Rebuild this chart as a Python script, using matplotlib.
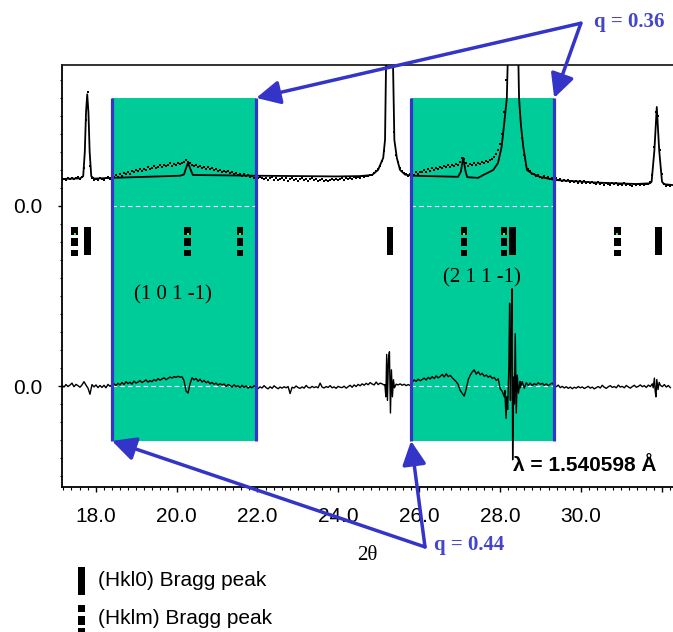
import numpy as np
import matplotlib
matplotlib.use('Agg')
import matplotlib.pyplot as plt
from matplotlib.patches import Rectangle

# scan grid of the measured pattern (degrees 2theta)
obs_start = 17.165
obs_step = 0.0495

# observed intensity above the pattern offset, 20 steps per row
obs_counts = [
    14.2, 15.1, 14.6, 15.3, 14.8, 15.6, 15.0, 15.4, 16.0, 15.2, 16.3, 21.0, 48.0, 63.5, 22.0, 15.8, 14.4, 15.0, 14.2, 15.3,
    15.0, 14.3, 15.6, 16.2, 15.1, 16.8, 16.0, 17.0, 16.3, 17.6, 16.9, 18.1, 17.5, 18.9, 18.0, 19.4, 18.6, 19.9, 19.2, 20.3,
    19.6, 20.8, 20.1, 21.4, 20.5, 21.2, 22.3, 20.9, 21.8, 22.6, 21.5, 23.0, 22.1, 22.8, 23.6, 22.3, 23.4, 22.6, 23.9, 23.1,
    23.8, 24.5, 25.3, 24.2, 23.6, 22.7, 22.0, 23.0, 21.6, 22.4, 21.1, 21.9, 20.7, 21.5, 20.3, 21.0, 19.8, 20.6, 19.4, 20.1,
    19.1, 19.7, 18.6, 19.3, 18.2, 18.9, 17.8, 18.5, 17.4, 18.0, 16.9, 17.6, 16.5, 17.2, 16.1, 16.8, 15.7, 16.4, 15.3, 16.0,
    15.8, 14.9, 15.6, 14.4, 15.3, 16.0, 14.7, 15.4, 14.2, 15.1, 15.8, 14.6, 15.3, 14.0, 15.0, 15.6, 14.5, 15.2, 13.9, 14.8,
    15.5, 14.3, 15.0, 14.1, 14.9, 15.4, 14.2, 14.8, 13.8, 14.6, 15.2, 14.0, 14.7, 13.7, 14.5, 15.1, 14.2, 14.9, 14.4, 15.0,
    15.3, 14.6, 15.6, 14.9, 15.8, 15.2, 16.1, 15.3, 16.2, 15.6, 16.5, 15.9, 16.8, 16.4, 17.3, 17.0, 18.4, 19.2, 20.6, 22.3,
    25.1, 30.8, 82.0, 240.0, 310.0, 190.0, 41.0, 28.4, 24.6, 21.3, 19.6, 18.2, 17.9, 16.8, 17.5, 16.4, 17.1, 18.6, 17.8, 19.0,
    18.8, 19.9, 19.1, 20.4, 19.6, 21.0, 20.2, 21.3, 20.6, 21.8, 21.0, 22.2, 21.4, 22.6, 21.9, 23.0, 22.2, 23.4, 22.8, 24.5,
    26.8, 25.9, 23.6, 22.4, 23.5, 22.6, 23.8, 22.9, 24.0, 23.2, 24.4, 23.6, 24.9, 24.2, 25.5, 26.0, 27.4, 28.8, 31.0, 34.5,
    40.0, 52.0, 70.0, 110.0, 300.0, 600.0, 520.0, 180.0, 90.0, 52.0, 38.0, 28.5, 23.0, 20.4, 19.2, 18.0, 17.6, 16.8, 17.2, 16.3,
    15.8, 16.4, 15.5, 16.1, 15.2, 15.7, 14.6, 15.3, 14.2, 14.9, 13.9, 14.6, 13.8, 14.3, 13.4, 14.1, 13.2, 13.9, 12.9, 13.7,
    13.0, 13.6, 12.7, 13.4, 12.5, 13.3, 12.9, 12.2, 13.1, 12.4, 13.0, 11.9, 12.8, 12.3, 11.7, 12.6, 12.0, 12.7, 11.6, 12.3,
    11.8, 12.5, 11.5, 12.2, 11.9, 11.3, 12.1, 11.6, 12.2, 11.4, 12.0, 11.7, 12.4, 12.0, 13.4, 17.0, 33.0, 52.0, 50.0, 31.0,
    18.0, 12.4, 11.3, 11.8, 11.1,
]

# calculated profile
calc_tth = [17.16, 17.61, 17.69, 17.73, 17.76, 17.79, 17.82, 17.85, 17.89, 17.96,
            18.40, 20.085, 20.184, 20.234, 20.283, 20.333, 20.402, 21.965, 23.944, 24.537,
            24.834, 24.983, 25.111, 25.156, 25.181, 25.23, 25.27, 25.309, 25.354, 25.387,
            25.448, 25.527, 25.651, 25.853, 26.962, 27.031, 27.09, 27.15, 27.189, 27.456,
            27.585, 27.704, 27.833, 27.951, 28.04, 28.10, 28.169, 28.189, 28.248, 28.318,
            28.387, 28.456, 28.471, 28.517, 28.576, 28.666, 28.794, 28.992, 29.363, 30.375,
            31.364, 31.71, 31.75, 31.819, 31.878, 31.937, 32.007, 32.056, 32.28]
calc_counts = [15.0, 15.3, 16.5, 30.0, 52.0, 62.0, 52.0, 30.0, 16.5, 15.2,
               15.6, 16.8, 17.5, 21.0, 24.0, 21.0, 17.2, 16.8, 16.4, 16.6,
               17.2, 20.0, 26.7, 36.7, 78.3, 250.0, 320.0, 250.0, 78.3, 36.7,
               26.7, 20.0, 17.4, 16.8, 16.2, 19.0, 26.7, 19.0, 16.0, 15.6,
               17.2, 18.5, 20.0, 23.9, 32.8, 45.0, 60.0, 78.3, 300.0, 650.0,
               300.0, 78.3, 60.0, 45.0, 32.8, 20.0, 18.0, 16.1, 14.4, 13.0,
               12.2, 12.6, 13.5, 31.0, 55.0, 31.0, 13.5, 12.1, 11.6]

# difference (obs - calc) on the scan grid
diff_counts = [
    0.4, -0.6, 0.8, -0.3, 0.5, 1.6, -0.4, 0.9, 0.2, -0.7, 0.6, 2.4, 0.5, -1.2, -4.6, 0.8, -0.5, 0.6, -0.9, 0.3,
    -0.8, 0.4, -1.0, 0.9, -0.2, 0.7, 1.2, 0.3, 1.5, 0.6, 1.9, 0.8, 2.4, 1.3, 2.1, 1.0, 2.8, 1.6, 2.2, 3.0,
    1.9, 2.6, 3.4, 2.1, 3.0, 2.4, 3.6, 2.8, 4.1, 3.2, 3.9, 4.6, 3.5, 4.2, 5.0, 4.4, 5.2, 4.8, 5.4, 4.9,
    5.1, 3.0, -2.8, -3.9, 1.2, 4.6, 3.4, 4.2, 2.6, 3.8, 2.2, 3.1, 1.8, 2.6, 1.2, 2.0, 0.9, 1.6, 0.5, 1.3,
    0.6, 1.1, -0.2, 0.8, 0.3, -0.6, 0.7, -0.4, 0.2, -0.9, 0.4, -0.7, 0.1, -1.2, -0.3, -1.0, 0.2, -0.8, -1.4, -0.5,
    -1.1, 0.2, -0.9, -1.6, -0.4, -1.3, 0.1, -0.8, -1.5, -0.6, -1.2, -0.4, -1.0, -0.3, -4.2, -0.7, -1.1, 0.0, -0.9, -1.3,
    -0.5, -1.2, 0.3, -0.8, -1.1, -0.2, -0.9, -0.4, -1.0, 1.6, -0.6, -1.1, -0.3, -0.8, 0.2, -1.0, -0.5, -1.3, -0.2, -0.7,
    -0.9, -0.1, -1.2, -0.4, 0.4, -0.7, 0.6, -0.3, 0.9, 0.1, 1.2, 0.4, 1.5, 0.7, 1.9, 1.1, 0.6, 2.2, 0.8, 1.6,
    1.2, 0.5, 0.0, 0.0, 0.0, 0.0, 0.0, 1.0, 0.6, 1.2, 0.4, 1.0, 0.2, 0.8, 0.3, 2.0, 3.4, 2.6, 3.8, 2.9,
    3.6, 4.4, 3.3, 4.8, 3.9, 5.2, 4.1, 5.6, 4.5, 5.3, 6.4, 5.0, 6.8, 5.2, 5.9, 4.6, 3.5, 2.4, 0.8, -2.5,
    -4.0, -5.6, -1.8, 3.5, 6.0, 7.8, 9.0, 6.6, 7.9, 6.2, 7.0, 5.4, 6.1, 4.9, 5.6, 4.2, 4.8, 3.1, 4.0, -1.5,
    -3.0, -6.0, 0.0, 0.0, 0.0, 0.0, 0.0, 0.0, 0.0, -1.0, 2.4, -1.2, 1.8, 0.4, 1.6, 0.2, 1.3, 0.6, 1.8, 0.9,
    1.5, 0.4, 1.2, 0.2, 1.0, 1.6, 0.3, -0.4, 0.5, -0.9, -0.2, -1.1, -0.4, -1.3, -0.6, -1.5, -0.7, -1.2, -0.3, -1.0,
    -0.5, -1.4, -0.8, -0.2, -1.2, -0.6, -1.6, -0.9, -0.3, -1.1, 0.4, -0.7, -1.3, -0.4, 0.2, -0.8, -0.3, -1.0, 0.5, -0.6,
    -0.2, -1.0, 0.3, -0.5, -1.2, -0.3, 0.4, -0.7, -0.2, 0.6, -0.4, 0.2, -0.8, 0.5, -0.3, 1.2, 0.0, 0.0, 0.0, 0.0,
    -0.4, 0.8, -0.6, 0.3, -0.9,
]

# finer sampled difference around the strong reflections
spike_tth = [
    [25.152, 25.177, 25.197, 25.216, 25.241, 25.265, 25.29, 25.314, 25.339, 25.364, 25.388],
    [28.12, 28.149, 28.169, 28.189, 28.218, 28.238, 28.258, 28.278, 28.298, 28.313, 28.337,
     28.357, 28.377, 28.402, 28.427, 28.456, 28.496],
    [31.79, 31.819, 31.839, 31.858, 31.878, 31.908, 31.937, 31.967],
]
spike_counts = [
    [0.8, -6.0, 17.5, -8.0, 15.0, 19.0, -15.0, 9.0, -6.0, 3.5, -1.0],
    [-2.5, -18.0, -6.0, -13.0, 10.0, 46.0, -8.0, 30.0, 54.0, -41.0, 5.0,
     -10.0, 29.0, -15.0, 6.0, -4.0, 2.5],
    [-1.0, 4.4, -3.0, -6.0, 3.6, -2.0, 2.0, 0.4],
]

# reflection positions
hkl0_tth = [17.80, 25.28, 28.30, 31.91]
hklm_tth = [17.48, 20.28, 21.57, 27.11, 28.10, 30.90]

# highlighted regions and their indices
region_tth = [(18.40, 21.97), (25.80, 29.34)]
region_labels = ['(1 0 1 -1)', '(2 1 1 -1)']

x_ticks = [18, 20, 22, 24, 26, 28, 30, 32]

GREEN = '#00CC99'
BLUE = '#3434C8'
TEXT_BLUE = '#4545CC'
W, H = 673, 632


def fig_xy(px, py):
    # pixel position in the figure -> figure fraction
    return px / W, 1 - py / H


def merge_diff():
    # scan-grid difference with the finer segments spliced in
    x = obs_start + obs_step * np.arange(len(diff_counts))
    y = np.array(diff_counts, dtype=float)
    keep = np.ones(len(x), dtype=bool)
    for sx in spike_tth:
        keep &= ~((x >= min(sx)) & (x <= max(sx)))
    xs = np.concatenate([x[keep]] + [np.array(s) for s in spike_tth])
    ys = np.concatenate([y[keep]] + [np.array(s) for s in spike_counts])
    order = np.argsort(xs)
    return xs[order], ys[order]


def main():
    plt.rcParams['font.family'] = ['Liberation Sans', 'DejaVu Sans']
    offset = 100.0
    box_top, box_bottom = 160.0, -30.5

    fig = plt.figure(figsize=(W / 100, H / 100), dpi=100)
    ax = fig.add_axes([62 / W, 1 - 487 / H, 1 - 62 / W, (487 - 65) / H])
    ax.set_xlim(17.166, 32.279)
    ax.set_ylim(-56.1, 178.3)

    # highlighted regions
    for (x1, x2) in region_tth:
        ax.add_patch(Rectangle((x1, box_bottom), x2 - x1, box_top - box_bottom,
                               facecolor=GREEN, edgecolor='none', zorder=1))
        ax.vlines([x1, x2], box_bottom, box_top, colors=BLUE, linewidth=2.3, zorder=4)
        ax.hlines([0, offset], x1, x2, colors='white', linewidth=0.8,
                  linestyles=(0, (4, 3)), zorder=1.5)

    # observed / calculated
    obs_x = obs_start + obs_step * np.arange(len(obs_counts))
    ax.plot(obs_x, np.array(obs_counts) + offset, 's', color='black',
            markersize=2.1, markeredgewidth=0, zorder=3)
    ax.plot(calc_tth, np.array(calc_counts) + offset, '-', color='black',
            linewidth=1.3, zorder=3)

    # difference curve
    dx, dy = merge_diff()
    ax.plot(dx, dy, '-', color='black', linewidth=1.0, zorder=3)

    # reflection markers
    bar_w = 0.17
    ax.bar(hkl0_tth, 88.4 - 72.6, width=bar_w, bottom=72.6, color='black', zorder=3)
    for top, bot in [(88.3, 83.9), (82.2, 77.8), (75.3, 72.2)]:
        ax.bar(hklm_tth, top - bot, width=bar_w, bottom=bot, color='black', zorder=3)
    ax.plot(hklm_tth, [84.6] * len(hklm_tth), 's', color='#33FF33',
            markersize=1.5, markeredgewidth=0, zorder=3.5)

    # region indices and wavelength
    ax.text(19.9, 50.5, region_labels[0], family='Liberation Serif', fontsize=15,
            ha='center', va='center', zorder=4)
    ax.text(27.55, 60.0, region_labels[1], family='Liberation Serif', fontsize=15,
            ha='center', va='center', zorder=4)
    ax.text(28.32, -44.4, 'λ = 1.540598 Å', fontsize=15, fontweight='bold',
            ha='left', va='center', zorder=4)

    # q-vector arrows
    arrow = dict(arrowstyle='-|>,head_length=0.8,head_width=0.4', color=BLUE,
                 linewidth=2.5, shrinkA=0, shrinkB=0, mutation_scale=18)
    top_apex = (30.0, 201.5)
    bot_apex = (26.145, -89.4)
    for tip in [(region_tth[0][1], box_top), (region_tth[1][1], box_top)]:
        ax.annotate('', xy=tip, xytext=top_apex, arrowprops=arrow,
                    annotation_clip=False, zorder=6)
    for tip in [(region_tth[0][0], box_bottom), (region_tth[1][0], box_bottom)]:
        ax.annotate('', xy=tip, xytext=bot_apex, arrowprops=arrow,
                    annotation_clip=False, zorder=6)
    ax.text(31.2, 202.0, 'q = 0.36', family='Liberation Serif', fontsize=15,
            fontweight='bold', color=TEXT_BLUE, ha='center', va='center', clip_on=False)
    ax.text(27.23, -88.3, 'q = 0.44', family='Liberation Serif', fontsize=15,
            fontweight='bold', color=TEXT_BLUE, ha='center', va='center', clip_on=False)

    # axes styling
    ax.spines['right'].set_visible(False)
    for s in ['left', 'bottom', 'top']:
        ax.spines[s].set_linewidth(1.3)
    ax.spines['top'].set_color('#222222')
    ax.set_xticks(x_ticks)
    ax.set_xticklabels(['%.1f' % t if t < 32 else '' for t in x_ticks])
    ax.set_xticks(np.arange(17.2, 32.3, 0.2), minor=True)
    ax.set_yticks([0, offset])
    ax.set_yticklabels(['0.0', '0.0'])
    ax.set_yticks(np.arange(-50, 171, 10), minor=True)
    ax.tick_params(axis='x', which='major', length=3.6, width=1, labelsize=15, pad=11)
    ax.tick_params(axis='x', which='minor', length=1.8, width=0.8)
    ax.tick_params(axis='y', which='major', length=3, width=1, labelsize=15, pad=11)
    ax.tick_params(axis='y', which='minor', length=1.6, width=0.8)
    ax.set_xlabel('2θ', family='Liberation Serif', fontsize=15, labelpad=14)

    # legend for the reflection markers
    x0, y0 = fig_xy(77.6, 595)
    fig.add_artist(Rectangle((x0, y0), 7 / W, 28 / H, transform=fig.transFigure,
                             facecolor='black', edgecolor='none'))
    for top, bot in [(605, 612), (616, 625), (628, 632)]:
        xb, yb = fig_xy(77.6, bot)
        fig.add_artist(Rectangle((xb, yb), 7 / W, (bot - top) / H,
                                 transform=fig.transFigure, facecolor='black',
                                 edgecolor='none'))
    fig.text(*fig_xy(98, 580), '(Hkl0) Bragg peak', fontsize=15, va='center')
    fig.text(*fig_xy(98, 619), '(Hklm) Bragg peak', fontsize=15, va='center')

    fig.savefig('out.png', dpi=100)


if __name__ == '__main__':
    main()
